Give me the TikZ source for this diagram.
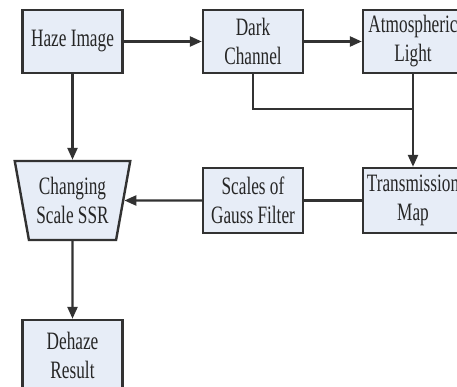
\documentclass[tikz,border=0pt]{standalone}
\usepackage{fontspec}
\newfontfamily\blockfont[FakeStretch=0.69]{Liberation Serif}
\usepackage{xcolor}
\definecolor{BoxFill}{RGB}{231,237,247}
\definecolor{BoxLine}{RGB}{50,50,50}
\usepackage{tikz}
\usetikzlibrary{shapes.geometric}
\usetikzlibrary{arrows.meta}
\tikzstyle{Block}=[draw=BoxLine,fill=BoxFill,line width=2.4pt,minimum width=100pt,
minimum height=63pt,inner sep=1pt,align=center,text=black!85,
font=\blockfont\fontsize{25}{29}\selectfont]
\tikzstyle{Flow}=[draw=BoxLine,line width=2.4pt,-{Triangle[length=12pt,width=10pt]}]
\tikzstyle{Link}=[draw=BoxLine,line width=2.4pt]

\begin{document}
\begin{tikzpicture}[x=1pt,y=-1pt]
        \useasboundingbox(0,0)rectangle(457,387);
        \clip(0,0)rectangle(457,387);
        \fill[white](0,0)rectangle(457,387);
        \node[Block](haze)at(72.5,41.5){Haze Image};
        \node[Block](dark)at(253,41.5){Dark\\Channel};
        \node[Block](atmo)at(413,41.5){Atmospheric\\Light};
        \node[Block,minimum height=65pt](trans)at(413,200.5){Transmission\\Map};
        \node[Block,minimum height=65pt](gauss)at(253,200.5){Scales of\\Gauss Filter};
        \node[Block,trapezium,shape border rotate=180,trapezium angle=76,
            trapezium stretches=true,minimum width=116pt,
            minimum height=79pt](ssr)at(72.5,200.5){Changing\\Scale SSR};
        \node[Block,minimum height=70pt](result)at(72.5,355){Dehaze\\Result};
        \coordinate(join)at(413,109);
        \draw[Flow](haze)--(dark);
        \draw[Flow](dark)--(atmo);
        \draw[Link](dark.south)|-(join);
        \draw[Flow](atmo.south)--(trans.north);
        \draw[Link](trans)--(gauss);
        \draw[Flow](gauss)--(ssr);
        \draw[Flow](haze)--(ssr);
        \draw[Flow](ssr)--(result);
    \end{tikzpicture}
\end{document}
